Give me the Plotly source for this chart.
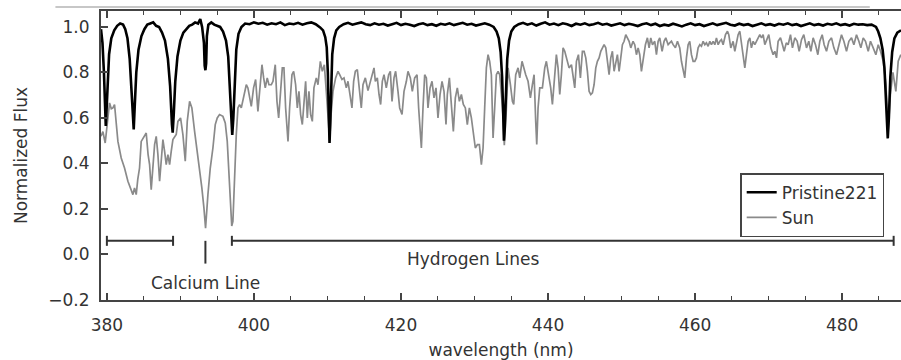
import plotly.graph_objects as go

# ---------------- data ----------------
# Pristine221 normalized flux: (wavelength nm, flux)
pristine_spectrum = [
    (379.2, 0.99), (379.4, 0.93), (379.6, 0.80), (379.75, 0.62), (379.85, 0.565),
    (379.95, 0.63), (380.1, 0.78), (380.3, 0.88), (380.6, 0.95), (381.0, 0.985),
    (381.4, 1.005), (381.8, 1.015), (382.2, 1.01), (382.5, 0.99), (382.8, 0.95),
    (383.1, 0.86), (383.35, 0.72), (383.55, 0.56), (383.65, 0.55), (383.8, 0.66),
    (384.0, 0.80), (384.3, 0.90), (384.7, 0.96), (385.1, 0.99), (385.5, 1.01),
    (385.9, 1.015), (386.3, 1.02), (386.7, 1.005), (387.1, 1.0), (387.5, 0.975),
    (387.9, 0.94), (388.3, 0.86), (388.6, 0.74), (388.85, 0.57), (388.95, 0.535),
    (389.1, 0.62), (389.3, 0.76), (389.6, 0.87), (390.0, 0.94), (390.4, 0.975),
    (390.8, 0.99), (391.2, 1.005), (391.6, 1.01), (392.0, 1.02), (392.4, 1.015),
    (392.7, 1.035), (392.95, 1.0), (393.2, 0.93), (393.3, 0.83), (393.4, 0.81),
    (393.5, 0.84), (393.6, 0.96), (393.8, 1.01), (394.2, 1.02), (394.6, 1.01),
    (395.0, 1.005), (395.4, 1.0), (395.8, 0.98), (396.2, 0.94), (396.5, 0.87),
    (396.75, 0.72), (396.95, 0.56), (397.05, 0.525), (397.2, 0.60), (397.4, 0.78),
    (397.6, 0.90), (397.9, 0.97), (398.3, 1.0), (398.8, 1.015), (399.4, 1.012),
    (400.0, 1.02), (400.6, 1.014), (401.2, 1.018), (401.8, 1.01), (402.4, 1.016),
    (403.0, 1.012), (403.6, 1.02), (404.2, 1.008), (404.8, 1.015), (405.4, 1.012),
    (406.0, 1.018), (406.6, 1.01), (407.2, 1.016), (407.8, 1.02), (408.4, 1.012),
    (408.8, 1.005), (409.0, 0.998), (409.4, 0.985), (409.7, 0.955), (409.9, 0.91),
    (410.05, 0.80), (410.18, 0.62), (410.28, 0.49), (410.38, 0.58), (410.5, 0.76),
    (410.65, 0.88), (410.9, 0.95), (411.2, 0.985), (411.6, 1.0), (412.2, 1.012),
    (412.8, 1.018), (413.4, 1.01), (414.0, 1.015), (414.6, 1.02), (415.2, 1.012),
    (415.8, 1.008), (416.4, 1.016), (417.0, 1.01), (417.6, 1.014), (418.2, 1.006),
    (418.8, 1.012), (419.4, 1.018), (420.0, 1.008), (420.6, 1.014), (421.2, 1.01),
    (421.8, 1.004), (422.4, 1.012), (423.0, 1.016), (423.6, 1.008), (424.2, 1.012),
    (424.8, 1.005), (425.4, 1.014), (426.0, 1.01), (426.6, 1.016), (427.2, 1.008),
    (427.8, 1.012), (428.4, 1.018), (429.0, 1.01), (429.6, 1.014), (430.2, 1.006),
    (430.8, 1.012), (431.4, 1.016), (432.0, 1.01), (432.6, 1.0), (433.0, 0.98),
    (433.3, 0.95), (433.55, 0.89), (433.75, 0.78), (433.9, 0.62), (434.0, 0.50),
    (434.1, 0.55), (434.25, 0.72), (434.45, 0.86), (434.7, 0.94), (435.0, 0.98),
    (435.4, 1.0), (436.0, 1.012), (436.6, 1.018), (437.2, 1.01), (437.8, 1.016),
    (438.4, 1.006), (439.0, 1.014), (439.6, 1.02), (440.2, 1.01), (440.8, 1.015),
    (441.4, 1.008), (442.0, 1.016), (442.6, 1.012), (443.2, 1.004), (443.8, 1.014),
    (444.4, 1.01), (445.0, 1.016), (445.6, 1.008), (446.2, 1.012), (446.8, 1.018),
    (447.4, 1.01), (448.0, 1.014), (448.6, 1.006), (449.2, 1.012), (449.8, 1.016),
    (450.4, 1.008), (451.0, 1.014), (451.6, 1.01), (452.2, 1.004), (452.8, 1.012),
    (453.4, 1.016), (454.0, 1.008), (454.6, 1.014), (455.2, 1.004), (455.8, 1.01),
    (456.4, 1.006), (457.0, 1.014), (457.6, 1.008), (458.2, 1.002), (458.8, 1.01),
    (459.4, 1.016), (460.0, 1.008), (460.6, 1.012), (461.2, 1.004), (461.8, 1.01),
    (462.4, 1.016), (463.0, 1.008), (463.6, 1.012), (464.2, 1.018), (464.8, 1.01),
    (465.4, 1.006), (466.0, 1.014), (466.6, 1.008), (467.2, 1.012), (467.8, 1.004),
    (468.4, 1.01), (469.0, 1.016), (469.6, 1.008), (470.2, 1.012), (470.8, 1.006),
    (471.4, 1.014), (472.0, 1.01), (472.6, 1.016), (473.2, 1.008), (473.8, 1.012),
    (474.4, 1.004), (475.0, 1.01), (475.6, 1.016), (476.2, 1.008), (476.8, 1.012),
    (477.4, 1.006), (478.0, 1.014), (478.6, 1.01), (479.2, 1.016), (479.8, 1.008),
    (480.4, 1.012), (481.0, 1.006), (481.6, 1.014), (482.2, 1.01), (482.8, 1.012),
    (483.4, 1.008), (484.0, 1.01), (484.6, 1.0), (484.9, 0.98), (485.2, 0.95),
    (485.5, 0.90), (485.75, 0.82), (485.95, 0.68), (486.1, 0.55), (486.2, 0.51),
    (486.35, 0.60), (486.55, 0.78), (486.8, 0.89), (487.1, 0.95), (487.5, 0.975),
    (488.0, 0.985),
]

# Sun normalized flux: (wavelength nm, flux)
sun_spectrum = [
    (379.2, 0.52), (379.46, 0.54), (379.77, 0.49), (380.1, 0.60), (380.36, 0.666),
    (380.6, 0.64), (380.82, 0.644), (381.04, 0.659), (381.3, 0.57), (381.5, 0.497),
    (381.95, 0.424), (382.4, 0.380), (382.86, 0.322), (383.1, 0.30), (383.31, 0.285),
    (383.54, 0.263), (383.76, 0.292), (383.99, 0.263), (384.2, 0.33), (384.44, 0.380),
    (384.67, 0.497), (385.12, 0.519), (385.35, 0.534), (385.6, 0.44), (385.81, 0.395),
    (386.03, 0.285), (386.25, 0.40), (386.49, 0.483), (386.71, 0.519), (386.94, 0.439),
    (387.17, 0.322), (387.4, 0.43), (387.62, 0.505), (387.85, 0.453), (388.07, 0.395),
    (388.30, 0.439), (388.53, 0.395), (388.75, 0.453), (388.98, 0.505), (389.43, 0.527),
    (389.66, 0.585), (390.02, 0.600), (390.34, 0.527), (390.66, 0.410), (390.93, 0.585),
    (391.25, 0.673), (391.56, 0.644), (391.93, 0.541), (392.29, 0.453), (392.60, 0.395),
    (392.92, 0.292), (393.20, 0.204), (393.42, 0.116), (393.74, 0.263), (394.06, 0.380),
    (394.42, 0.468), (394.74, 0.571), (395.01, 0.600), (395.32, 0.615), (395.78, 0.607),
    (396.10, 0.578), (396.37, 0.497), (396.69, 0.322), (396.98, 0.125), (397.14, 0.146),
    (397.37, 0.351), (397.60, 0.527), (397.82, 0.644), (398.05, 0.659), (398.28, 0.644),
    (398.50, 0.673), (398.73, 0.717), (398.96, 0.746), (399.18, 0.732), (399.41, 0.688),
    (399.64, 0.651), (399.95, 0.732), (400.23, 0.769), (400.54, 0.629), (400.77, 0.732),
    (401.09, 0.834), (401.32, 0.776), (401.54, 0.732), (401.81, 0.776), (402.04, 0.746),
    (402.36, 0.746), (402.59, 0.761), (402.90, 0.834), (403.13, 0.673), (403.36, 0.600),
    (403.58, 0.703), (403.86, 0.820), (404.08, 0.820), (404.31, 0.644), (404.63, 0.497),
    (404.85, 0.644), (405.17, 0.790), (405.40, 0.805), (405.67, 0.746), (405.90, 0.644),
    (406.12, 0.717), (406.35, 0.615), (406.58, 0.571), (406.80, 0.673), (407.03, 0.761),
    (407.26, 0.600), (407.48, 0.717), (407.71, 0.615), (407.94, 0.585), (408.16, 0.732),
    (408.48, 0.776), (408.71, 0.746), (409.03, 0.849), (409.30, 0.805), (409.57, 0.834),
    (409.84, 0.717), (410.1, 0.58), (410.3, 0.50), (410.5, 0.62), (410.75, 0.717),
    (411.11, 0.776), (411.43, 0.805), (411.66, 0.790), (411.97, 0.769), (412.25, 0.776),
    (412.56, 0.732), (412.79, 0.761), (413.02, 0.717), (413.33, 0.644), (413.56, 0.761),
    (413.79, 0.805), (414.06, 0.812), (414.29, 0.746), (414.60, 0.644), (414.83, 0.746),
    (415.15, 0.776), (415.51, 0.72), (415.74, 0.746), (416.05, 0.790), (416.33, 0.820),
    (416.51, 0.761), (416.78, 0.776), (417.01, 0.703), (417.23, 0.659), (417.46, 0.761),
    (417.69, 0.790), (418.00, 0.732), (418.32, 0.790), (418.55, 0.805), (418.78, 0.673),
    (419.05, 0.776), (419.27, 0.805), (419.59, 0.717), (419.82, 0.644), (420.14, 0.615),
    (420.41, 0.717), (420.73, 0.761), (420.95, 0.805), (421.27, 0.776), (421.54, 0.717),
    (421.86, 0.776), (422.18, 0.790), (422.40, 0.644), (422.63, 0.541), (422.77, 0.468),
    (422.99, 0.644), (423.22, 0.790), (423.45, 0.776), (423.67, 0.644), (423.95, 0.732),
    (424.22, 0.761), (424.49, 0.688), (424.76, 0.732), (425.03, 0.600), (425.31, 0.703),
    (425.58, 0.761), (425.85, 0.717), (426.12, 0.571), (426.30, 0.703), (426.58, 0.776),
    (426.85, 0.644), (427.12, 0.541), (427.39, 0.688), (427.66, 0.732), (427.94, 0.673),
    (428.21, 0.703), (428.48, 0.659), (428.75, 0.644), (429.02, 0.571), (429.30, 0.644),
    (429.57, 0.600), (429.84, 0.541), (430.11, 0.468), (430.39, 0.483), (430.66, 0.483),
    (430.93, 0.395), (431.16, 0.468), (431.38, 0.644), (431.61, 0.820), (431.84, 0.878),
    (432.06, 0.849), (432.29, 0.790), (432.52, 0.512), (432.74, 0.644), (432.97, 0.790),
    (433.20, 0.805), (433.42, 0.790), (433.8, 0.65), (434.05, 0.48), (434.3, 0.62),
    (434.56, 0.820), (434.88, 0.746), (435.15, 0.673), (435.33, 0.659), (435.60, 0.790),
    (435.92, 0.820), (436.15, 0.776), (436.46, 0.849), (436.69, 0.820), (436.96, 0.790),
    (437.28, 0.761), (437.60, 0.688), (437.87, 0.746), (438.10, 0.790), (438.32, 0.585),
    (438.46, 0.483), (438.64, 0.644), (438.87, 0.732), (439.23, 0.732), (439.55, 0.820),
    (439.77, 0.849), (440.09, 0.790), (440.36, 0.732), (440.59, 0.659), (440.91, 0.790),
    (441.13, 0.878), (441.36, 0.820), (441.59, 0.703), (441.81, 0.790), (442.04, 0.908),
    (442.27, 0.893), (442.59, 0.849), (442.86, 0.820), (443.18, 0.834), (443.40, 0.790),
    (443.63, 0.732), (443.86, 0.849), (444.13, 0.878), (444.40, 0.776), (444.67, 0.893),
    (444.90, 0.893), (445.13, 0.864), (445.35, 0.805), (445.58, 0.717), (445.81, 0.703),
    (446.03, 0.710), (446.26, 0.746), (446.49, 0.820), (446.71, 0.849), (446.94, 0.864),
    (447.17, 0.893), (447.39, 0.908), (447.62, 0.922), (447.85, 0.908), (448.12, 0.834),
    (448.30, 0.790), (448.53, 0.864), (448.75, 0.893), (448.98, 0.805), (449.21, 0.849),
    (449.43, 0.878), (449.66, 0.805), (449.89, 0.864), (450.11, 0.922), (450.34, 0.937),
    (450.57, 0.966), (450.79, 0.952), (451.02, 0.937), (451.25, 0.908), (451.56, 0.937),
    (451.79, 0.922), (452.02, 0.878), (452.25, 0.908), (452.47, 0.878), (452.70, 0.805),
    (452.93, 0.849), (453.24, 0.922), (453.51, 0.952), (453.74, 0.908), (453.97, 0.952),
    (454.20, 0.922), (454.51, 0.937), (454.74, 0.878), (454.97, 0.937), (455.19, 0.952),
    (455.51, 0.893), (455.78, 0.937), (456.01, 0.952), (456.33, 0.922), (456.55, 0.930),
    (456.78, 0.937), (457.01, 0.922), (457.32, 0.908), (457.60, 0.937), (457.91, 0.908),
    (458.14, 0.849), (458.37, 0.805), (458.59, 0.776), (458.82, 0.864), (459.05, 0.922),
    (459.27, 0.937), (459.50, 0.878), (459.73, 0.849), (459.96, 0.849), (460.18, 0.864),
    (460.41, 0.908), (460.64, 0.922), (460.86, 0.915), (461.09, 0.937), (461.32, 0.922),
    (461.54, 0.930), (461.77, 0.915), (462.00, 0.937), (462.22, 0.922), (462.45, 0.937),
    (462.68, 0.922), (462.90, 0.952), (463.13, 0.922), (463.36, 0.937), (463.58, 0.944),
    (463.81, 0.922), (464.13, 0.966), (464.40, 0.981), (464.58, 0.966), (464.85, 0.908),
    (465.17, 0.937), (465.40, 0.893), (465.62, 0.922), (465.85, 0.966), (466.08, 0.981),
    (466.30, 0.922), (466.53, 0.864), (466.76, 0.820), (466.98, 0.878), (467.21, 0.937),
    (467.44, 0.952), (467.66, 0.908), (467.89, 0.937), (468.12, 0.922), (468.34, 0.937),
    (468.57, 0.952), (468.80, 0.966), (469.03, 0.952), (469.25, 0.966), (469.48, 0.922),
    (469.71, 0.944), (470.02, 0.966), (470.30, 0.908), (470.61, 0.878), (470.84, 0.893),
    (471.07, 0.864), (471.29, 0.937), (471.61, 0.952), (471.88, 0.922), (472.11, 0.893),
    (472.40, 0.930), (472.65, 0.922), (472.97, 0.966), (473.24, 0.908), (473.56, 0.952),
    (473.88, 0.937), (474.15, 0.893), (474.47, 0.944), (474.78, 0.966), (475.15, 0.908),
    (475.46, 0.937), (475.74, 0.893), (476.05, 0.952), (476.37, 0.922), (476.69, 0.878),
    (476.96, 0.937), (477.28, 0.966), (477.55, 0.922), (477.87, 0.893), (478.19, 0.937),
    (478.55, 0.952), (478.87, 0.908), (479.23, 0.878), (479.55, 0.922), (479.91, 0.966),
    (480.23, 0.937), (480.59, 0.893), (480.91, 0.937), (481.27, 0.952), (481.59, 0.922),
    (481.95, 0.966), (482.27, 0.937), (482.54, 0.908), (482.86, 0.952), (483.17, 0.937),
    (483.54, 0.893), (483.85, 0.937), (484.22, 0.908), (484.58, 0.878), (484.90, 0.922),
    (485.22, 0.893), (485.58, 0.849), (485.94, 0.75), (486.26, 0.55), (486.55, 0.70),
    (486.90, 0.80), (487.30, 0.717), (487.62, 0.849), (487.98, 0.878),
]

# annotation bars (wavelength ranges, nm) and labels
calcium_bar = (380.0, 389.0)
calcium_line_wl = 393.4
hydrogen_bar = (397.0, 487.0)
bar_level = 0.06
calcium_label = "Calcium Line"
hydrogen_label = "Hydrogen Lines"

x_ticks = [380, 400, 420, 440, 460, 480]
y_ticks = [-0.2, 0.0, 0.2, 0.4, 0.6, 0.8, 1.0]

# ---------------- figure ----------------
FONT = "DejaVu Sans"
TXT = "#333333"
AX = "#444444"

sun_wl = [p[0] for p in sun_spectrum]
sun_fx = [p[1] for p in sun_spectrum]
pr_wl = [p[0] for p in pristine_spectrum]
pr_fx = [p[1] for p in pristine_spectrum]

fig = go.Figure()
fig.add_trace(go.Scatter(x=sun_wl, y=sun_fx, mode="lines", name="Sun",
                         line=dict(color="#8a8a8a", width=1.7), legendrank=2))
fig.add_trace(go.Scatter(x=pr_wl, y=pr_fx, mode="lines", name="Pristine221",
                         line=dict(color="#000000", width=2.6), legendrank=1))

shapes = []
line_style = dict(color=TXT, width=2)
cap = 0.022
for (a, b) in (calcium_bar, hydrogen_bar):
    shapes.append(dict(type="line", xref="x", yref="y", x0=a, x1=b,
                       y0=bar_level, y1=bar_level, line=line_style))
    for e in (a, b):
        shapes.append(dict(type="line", xref="x", yref="y", x0=e, x1=e,
                           y0=bar_level - cap, y1=bar_level + cap, line=line_style))
shapes.append(dict(type="line", xref="x", yref="y", x0=calcium_line_wl,
                   x1=calcium_line_wl, y0=bar_level, y1=bar_level - 0.1,
                   line=line_style))
# faint border line above the plot (as in the scanned figure)
shapes.append(dict(type="line", xref="paper", yref="paper", x0=-0.057, x1=0.961,
                   y0=1.014, y1=1.014, line=dict(color="#b5b5b5", width=1.5)))

annotations = [
    dict(x=calcium_line_wl, y=-0.125, xref="x", yref="y", text=calcium_label,
         showarrow=False, font=dict(family=FONT, size=17, color=TXT)),
    dict(x=429.9, y=-0.02, xref="x", yref="y", text=hydrogen_label,
         showarrow=False, font=dict(family=FONT, size=17, color=TXT)),
]

fig.update_layout(
    width=901, height=360,
    margin=dict(l=101, r=0, t=11, b=60, autoexpand=False),
    paper_bgcolor="white", plot_bgcolor="white",
    font=dict(family=FONT, size=17, color=TXT),
    shapes=shapes, annotations=annotations,
    legend=dict(x=0.979, y=0.439, xanchor="right", yanchor="top",
                bordercolor=AX, borderwidth=1.5, bgcolor="white",
                font=dict(family=FONT, size=17, color=TXT),
                tracegroupgap=0, itemwidth=30),
    xaxis=dict(range=[379.2, 488.0], tickvals=x_ticks, ticks="inside",
               ticklen=7, tickwidth=1.5, tickcolor=AX,
               minor=dict(dtick=5, tick0=380, ticks="inside", ticklen=4,
                          tickwidth=1.2, tickcolor=AX, showgrid=False),
               showline=True, linecolor=AX, linewidth=2, mirror="ticks",
               showgrid=False, zeroline=False, ticklabelstandoff=9,
               tickfont=dict(family=FONT, size=17, color=TXT),
               title=dict(text="wavelength (nm)", standoff=10,
                          font=dict(family=FONT, size=17, color=TXT))),
    yaxis=dict(range=[-0.2, 1.07], tickvals=y_ticks, tickformat=".1f",
               ticks="inside", ticklen=7, tickwidth=1.5, tickcolor=AX,
               showline=True, linecolor=AX, linewidth=2, mirror=False,
               showgrid=False, zeroline=False, ticklabelstandoff=6,
               tickfont=dict(family=FONT, size=17, color=TXT),
               title=dict(text="Normalized Flux", standoff=16,
                          font=dict(family=FONT, size=17, color=TXT))),
)

fig.write_html(
    "out.html",
    config={"displayModeBar": False},
    post_script="document.body.style.margin='0';document.body.style.overflow='hidden';",
)
